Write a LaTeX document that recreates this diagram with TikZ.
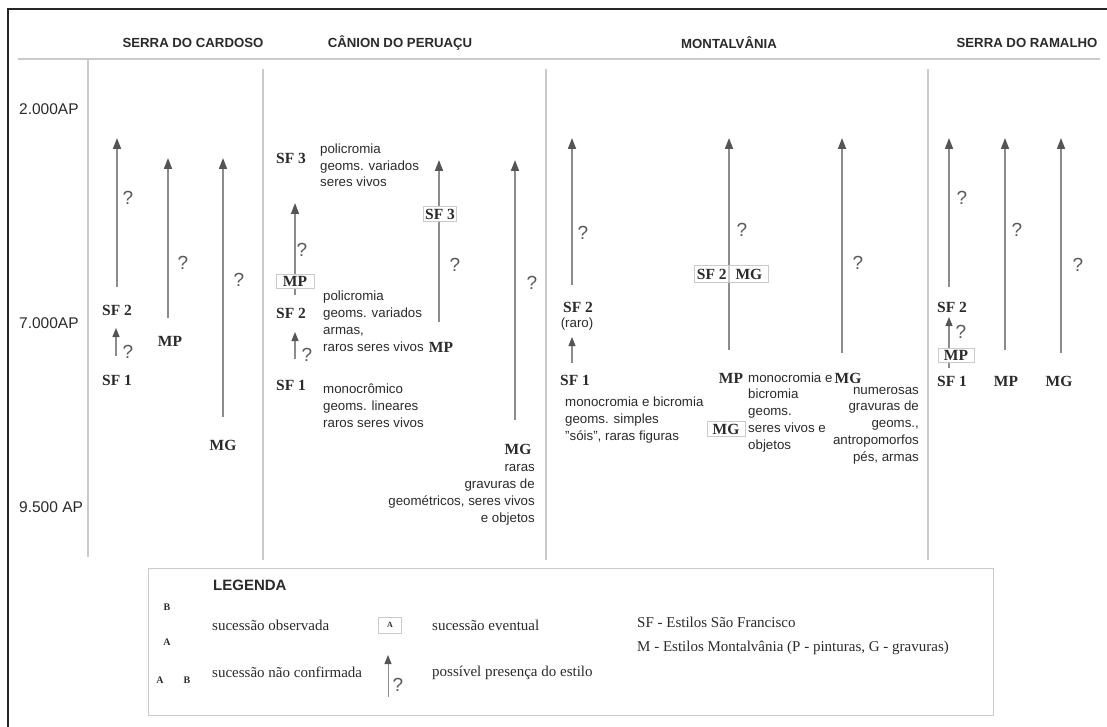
\documentclass[tikz,border=0pt]{standalone}
\usepackage{fontspec}
\setmainfont{Liberation Serif}
\setsansfont{Liberation Sans}
\usetikzlibrary{arrows.meta}

\definecolor{linegray}{HTML}{8C8C8C}
\definecolor{headgray}{HTML}{555555}
\definecolor{sepgray}{HTML}{CACACA}
\definecolor{txtgray}{HTML}{2A2A2A}

\begin{document}
\begin{tikzpicture}[x=1pt,y=-1pt,
    titulo/.style={font=\sffamily\bfseries\fontsize{13.2}{15}\selectfont,text=txtgray,inner sep=0pt},
    idade/.style={font=\sffamily\fontsize{15.5}{17}\selectfont,text=txtgray,anchor=west,inner sep=0pt},
    estilo/.style={font=\rmfamily\bfseries\fontsize{15.5}{17}\selectfont,text=txtgray,inner sep=0pt},
    desc/.style={font=\sffamily\fontsize{13.3}{16.7}\selectfont,text=txtgray,inner sep=0pt},
    duvida/.style={font=\sffamily\fontsize{19}{21}\selectfont,text=black!65,inner sep=0pt},
    caixa/.style={estilo,draw=sepgray,fill=white,line width=0.8pt,inner xsep=2pt,inner ysep=2pt},
    legtxt/.style={font=\rmfamily\fontsize{15}{17}\selectfont,text=txtgray,anchor=west,inner sep=0pt},
    legletra/.style={font=\rmfamily\bfseries\fontsize{10}{12}\selectfont,text=txtgray,inner sep=0pt},
    seta/.style={draw=linegray,line width=1.7pt,-{Triangle[width=8pt,length=11pt,color=headgray]}},
    setacurta/.style={draw=linegray,line width=1.2pt,-{Triangle[width=7pt,length=9pt,color=headgray]}},
    divisa/.style={draw=sepgray,line width=1.2pt}]
  \useasboundingbox (0,0) rectangle (1107,727);

  % moldura e divisorias
  \draw[line width=2pt,black!85] (8,727) -- (8,9) -- (1107,9);
  \draw[divisa] (18,59) -- (1100,59);
  \draw[divisa] (88,60) -- (88,557);
  \draw[divisa] (263,69) -- (263,560);
  \draw[divisa] (546,69) -- (546,560);
  \draw[divisa] (928,69) -- (928,560);

  % titulos
  \node[titulo] (t-sc) at (193,43) {SERRA DO CARDOSO};
  \node[titulo] (t-cp) at (400,43) {CÂNION DO PERUAÇU};
  \node[titulo] (t-mt) at (729,43) {MONTALVÂNIA};
  \node[titulo] (t-sr) at (1027,43) {SERRA DO RAMALHO};

  \node[idade] (ap2) at (19,109) {2.000AP};
  \node[idade] (ap7) at (19,323) {7.000AP};
  \node[idade] (ap95) at (19,507) {9.500 AP};

  % serra do cardoso
  \coordinate (sc-a1) at (117,287); \coordinate (sc-a1t) at (117,138);
  \coordinate (sc-a2) at (168,318); \coordinate (sc-a2t) at (168,158);
  \coordinate (sc-a3) at (223,417); \coordinate (sc-a3t) at (223,158);
  \coordinate (sc-a4) at (116,356); \coordinate (sc-a4t) at (116,328);
  \draw[seta] (sc-a1) -- (sc-a1t);
  \draw[seta] (sc-a2) -- (sc-a2t);
  \draw[seta] (sc-a3) -- (sc-a3t);
  \draw[setacurta] (sc-a4) -- (sc-a4t);
  \node[estilo] (sc-sf2) at (117,310) {SF 2};
  \node[estilo] (sc-sf1) at (117,380) {SF 1};
  \node[estilo] (sc-mp) at (170,341) {MP};
  \node[estilo] (sc-mg) at (223,445) {MG};
  \node[duvida] (sc-q1) at (128,198) {?};
  \node[duvida] (sc-q2) at (183,263) {?};
  \node[duvida] (sc-q3) at (239,280) {?};
  \node[duvida] (sc-q4) at (128,352) {?};

  % canion do peruacu
  \coordinate (cp-a1) at (295,295); \coordinate (cp-a1t) at (295,203);
  \coordinate (cp-a2) at (295,359); \coordinate (cp-a2t) at (295,332);
  \coordinate (cp-a3) at (439,322); \coordinate (cp-a3t) at (439,160);
  \coordinate (cp-a4) at (515,420); \coordinate (cp-a4t) at (515,160);
  \draw[seta,line width=1.3pt] (cp-a1) -- (cp-a1t);
  \draw[setacurta] (cp-a2) -- (cp-a2t);
  \draw[seta] (cp-a3) -- (cp-a3t);
  \draw[seta] (cp-a4) -- (cp-a4t);
  \node[estilo] (cp-sf3) at (291,158) {SF 3};
  \node[estilo] (cp-sf2) at (291,313) {SF 2};
  \node[estilo] (cp-sf1) at (291,385) {SF 1};
  \node[caixa,minimum width=38pt] (cp-mpb) at (295,281) {MP};
  \node[caixa] (cp-sf3b) at (440,214) {SF 3};
  \node[estilo] (cp-mp) at (441,347) {MP};
  \node[estilo] (cp-mg) at (518,449) {MG};
  \node[duvida] (cp-q1) at (302,250) {?};
  \node[duvida] (cp-q2) at (307,355) {?};
  \node[duvida] (cp-q3) at (455,265) {?};
  \node[duvida] (cp-q4) at (532,283) {?};
  \node[desc,anchor=base west,align=left] (cp-d3) at (320,187)
    {policromia\\geoms. variados\\seres vivos};
  \node[desc,anchor=base west,align=left] (cp-d2) at (323,351)
    {policromia\\geoms. variados\\armas,\\raros seres vivos};
  \node[desc,anchor=base west,align=left] (cp-d1) at (323,427)
    {monocrômico\\geoms. lineares\\raros seres vivos};
  \node[desc,anchor=base east,align=right] (cp-dmg) at (535,522)
    {raras\\gravuras de\\geométricos, seres vivos\\e objetos};

  % montalvania
  \coordinate (mt-a1) at (572,285); \coordinate (mt-a1t) at (572,138);
  \coordinate (mt-a2) at (572,363); \coordinate (mt-a2t) at (572,337);
  \coordinate (mt-a3) at (729,350); \coordinate (mt-a3t) at (729,138);
  \coordinate (mt-a4) at (842,353); \coordinate (mt-a4t) at (842,138);
  \draw[seta] (mt-a1) -- (mt-a1t);
  \draw[setacurta] (mt-a2) -- (mt-a2t);
  \draw[seta] (mt-a3) -- (mt-a3t);
  \draw[seta] (mt-a4) -- (mt-a4t);
  \node[estilo] (mt-sf2) at (578,307) {SF 2};
  \node[desc] (mt-raro) at (577,324) {(raro)};
  \node[estilo] (mt-sf1) at (575,380) {SF 1};
  \node[caixa,minimum width=32pt,minimum height=17pt,anchor=east] (mt-sf2b) at (729,274) {SF 2};
  \node[caixa,minimum width=39pt,minimum height=17pt,anchor=west] (mt-mgb) at (729,274) {MG};
  \node[estilo] (mt-mp) at (731,378) {MP};
  \node[estilo] (mt-mg) at (848,378) {MG};
  \node[caixa,minimum width=38pt] (mt-mgb2) at (726,429) {MG};
  \node[duvida] (mt-q1) at (583,233) {?};
  \node[duvida] (mt-q2) at (742,230) {?};
  \node[duvida] (mt-q3) at (858,263) {?};
  \node[desc,anchor=base west,align=left] (mt-d1) at (565,440)
    {monocromia e bicromia\\geoms. simples\\"sóis", raras figuras};
  \node[desc,anchor=base west,align=left] (mt-d2) at (748,449)
    {monocromia e\\bicromia\\geoms.\\seres vivos e\\objetos};
  \node[desc,anchor=base east,align=right] (mt-d3) at (919,461)
    {numerosas\\gravuras de\\geoms.,\\antropomorfos\\pés, armas};

  % serra do ramalho
  \coordinate (sr-a1) at (949,287); \coordinate (sr-a1t) at (949,138);
  \coordinate (sr-a2) at (1005,350); \coordinate (sr-a2t) at (1005,138);
  \coordinate (sr-a3) at (1061,353); \coordinate (sr-a3t) at (1061,138);
  \coordinate (sr-a4) at (949,368); \coordinate (sr-a4t) at (949,317);
  \draw[seta] (sr-a1) -- (sr-a1t);
  \draw[seta] (sr-a2) -- (sr-a2t);
  \draw[seta] (sr-a3) -- (sr-a3t);
  \draw[setacurta] (sr-a4) -- (sr-a4t);
  \node[estilo] (sr-sf2) at (952,307) {SF 2};
  \node[caixa,minimum width=36pt] (sr-mpb) at (956,355) {MP};
  \node[estilo] (sr-sf1) at (952,381) {SF 1};
  \node[estilo] (sr-mp) at (1006,381) {MP};
  \node[estilo] (sr-mg) at (1059,381) {MG};
  \node[duvida] (sr-q1) at (962,198) {?};
  \node[duvida] (sr-q2) at (1017,230) {?};
  \node[duvida] (sr-q3) at (1078,265) {?};
  \node[duvida] (sr-q4) at (961,332) {?};

  % legenda
  \draw[sepgray,line width=1pt] (148,568) rectangle (993,715);
  \node[font=\sffamily\bfseries\fontsize{15}{17}\selectfont,text=txtgray,anchor=west,inner sep=0pt] (leg) at (213,585) {LEGENDA};
  \node[legletra] (l-b1) at (167,607) {B};
  \node[legletra] (l-a1) at (167,642) {A};
  \node[legletra] (l-a2) at (160,680) {A};
  \node[legletra] (l-b2) at (187,680) {B};
  \node[legtxt] (l-obs) at (212,625) {sucessão observada};
  \node[legtxt] (l-nc) at (212,672) {sucessão não confirmada};
  \node[legletra,font=\rmfamily\bfseries\fontsize{8}{10}\selectfont,draw=sepgray,line width=0.8pt,minimum width=23pt,minimum height=16pt] (l-box) at (390,625) {A};
  \coordinate (l-a) at (388,697); \coordinate (l-at) at (388,655);
  \draw[setacurta,line width=1pt] (l-a) -- (l-at);
  \node[duvida] (l-q) at (398,685) {?};
  \node[legtxt] (l-ev) at (432,625) {sucessão eventual};
  \node[legtxt] (l-pp) at (432,673) {possível presença do estilo};
  \node[legtxt] (l-sf) at (637,622) {SF - Estilos São Francisco};
  \node[legtxt] (l-m) at (637,648) {M - Estilos Montalvânia (P - pinturas, G - gravuras)};
\end{tikzpicture}
\end{document}
